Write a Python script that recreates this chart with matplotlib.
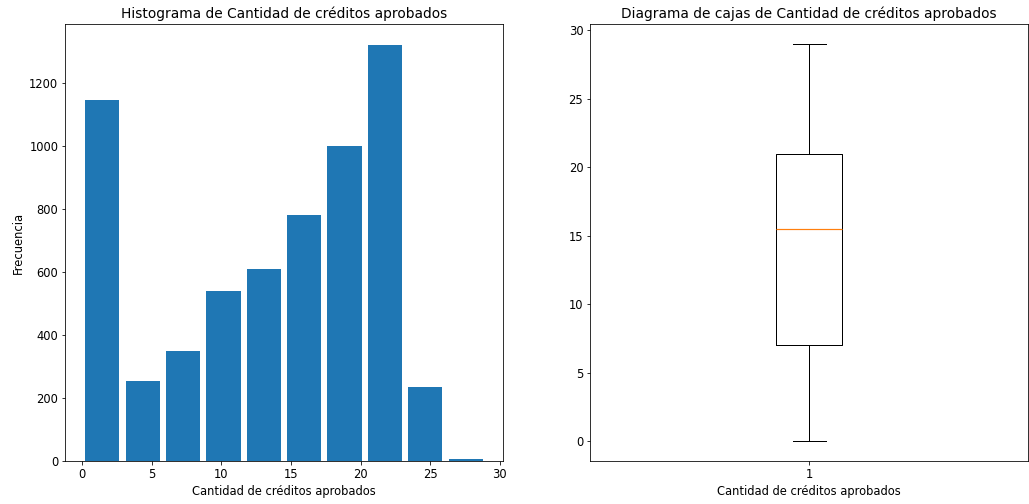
import numpy as np
import matplotlib
matplotlib.use("Agg")
import matplotlib.pyplot as plt

# frecuencias por intervalo (10 intervalos entre 0 y 29 créditos)
credito_min = 0
credito_max = 29
frecuencias = [1145, 255, 350, 540, 610, 780, 1000, 1320, 237, 8]

# resumen de la caja
cuartil1 = 7
mediana = 15.5
cuartil3 = 21

etiqueta = "Cantidad de créditos aprobados"

plt.rcParams["font.size"] = 11.5

fig = plt.figure(figsize=(1029 / 72, 504 / 72), dpi=72)
ax1 = fig.add_axes([65.3 / 1029, 42.7 / 504, 437.4 / 1029, 437.3 / 504])
ax2 = fig.add_axes([590.3 / 1029, 42.7 / 504, 438 / 1029, 437.3 / 504])

bordes = np.linspace(credito_min, credito_max, len(frecuencias) + 1)
centros = (bordes[:-1] + bordes[1:]) / 2
ax1.hist(centros, bins=bordes, weights=frecuencias, rwidth=0.85)
ax1.set_title("Histograma de " + etiqueta)
ax1.set_xlabel(etiqueta)
ax1.set_ylabel("Frecuencia")

stats = [{
    "med": mediana,
    "q1": cuartil1,
    "q3": cuartil3,
    "whislo": credito_min,
    "whishi": credito_max,
    "fliers": [],
}]
ax2.bxp(stats, showfliers=False,
        medianprops={"color": "#ff7f0e", "linewidth": 1.2})
ax2.set_title("Diagrama de cajas de " + etiqueta)
ax2.set_xlabel(etiqueta)

fig.savefig("out.png", dpi=72)
